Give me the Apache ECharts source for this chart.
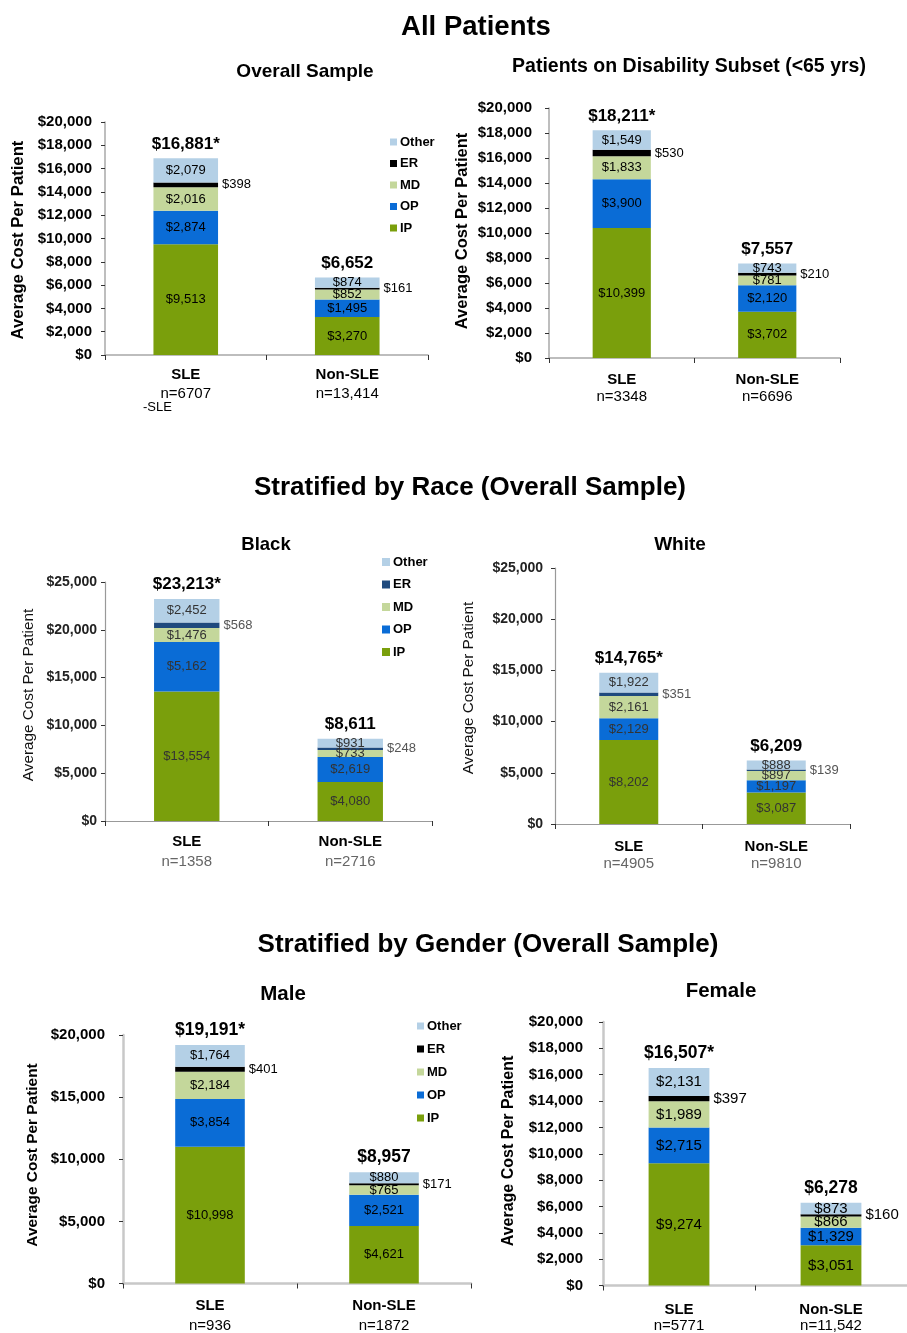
<!DOCTYPE html>
<html><head><meta charset="utf-8">
<script src="https://cdn.jsdelivr.net/npm/echarts@6/dist/echarts.min.js"></script>
<style>html,body{margin:0;padding:0;background:#fff}#c{width:907px;height:1333px}</style>
</head><body><div id="c"></div>
<script>
// ---------------- DATA ----------------
const categories = ['SLE', 'Non-SLE'];
const segmentNames = ['IP', 'OP', 'MD', 'ER', 'Other'];
const legendOrder = ['Other', 'ER', 'MD', 'OP', 'IP'];

// All Patients - Overall Sample
const overallIP = [9513, 3270];
const overallOP = [2874, 1495];
const overallMD = [2016, 852];
const overallER = [398, 161];
const overallOther = [2079, 874];
const overallTotals = ['$16,881*', '$6,652'];
const overallN = ['n=6707', 'n=13,414'];

// All Patients - Disability subset (<65 yrs)
const disabIP = [10399, 3702];
const disabOP = [3900, 2120];
const disabMD = [1833, 781];
const disabER = [530, 210];
const disabOther = [1549, 743];
const disabTotals = ['$18,211*', '$7,557'];
const disabN = ['n=3348', 'n=6696'];

// Race - Black
const blackIP = [13554, 4080];
const blackOP = [5162, 2619];
const blackMD = [1476, 733];
const blackER = [568, 248];
const blackOther = [2452, 931];
const blackTotals = ['$23,213*', '$8,611'];
const blackN = ['n=1358', 'n=2716'];

// Race - White
const whiteIP = [8202, 3087];
const whiteOP = [2129, 1197];
const whiteMD = [2161, 897];
const whiteER = [351, 139];
const whiteOther = [1922, 888];
const whiteTotals = ['$14,765*', '$6,209'];
const whiteN = ['n=4905', 'n=9810'];

// Gender - Male
const maleIP = [10998, 4621];
const maleOP = [3854, 2521];
const maleMD = [2184, 765];
const maleER = [401, 171];
const maleOther = [1764, 880];
const maleTotals = ['$19,191*', '$8,957'];
const maleN = ['n=936', 'n=1872'];

// Gender - Female
const femaleIP = [9274, 3051];
const femaleOP = [2715, 1329];
const femaleMD = [1989, 866];
const femaleER = [397, 160];
const femaleOther = [2131, 873];
const femaleTotals = ['$16,507*', '$6,278'];
const femaleN = ['n=5771', 'n=11,542'];

// y-axis scales (max, interval)
const yMax = [20000, 20000, 25000, 25000, 20000, 20000];
const yInterval = [2000, 2000, 5000, 5000, 5000, 2000];

// ---------------- BUILD ----------------
const panelData = [
  {IP: overallIP, OP: overallOP, MD: overallMD, ER: overallER, Other: overallOther, totals: overallTotals, n: overallN},
  {IP: disabIP, OP: disabOP, MD: disabMD, ER: disabER, Other: disabOther, totals: disabTotals, n: disabN},
  {IP: blackIP, OP: blackOP, MD: blackMD, ER: blackER, Other: blackOther, totals: blackTotals, n: blackN},
  {IP: whiteIP, OP: whiteOP, MD: whiteMD, ER: whiteER, Other: whiteOther, totals: whiteTotals, n: whiteN},
  {IP: maleIP, OP: maleOP, MD: maleMD, ER: maleER, Other: maleOther, totals: maleTotals, n: maleN},
  {IP: femaleIP, OP: femaleOP, MD: femaleMD, ER: femaleER, Other: femaleOther, totals: femaleTotals, n: femaleN}
];

const FONT = "'Liberation Sans', Arial, Helvetica, sans-serif";
const palette = {IP: '#7a9f0c', OP: '#0a6cd6', MD: '#c4d79b', Other: '#b4d0e6'};

const layout = [
  {left:105, top:122, width:323, height:233, tickFont:15, tickBold:true, tickColor:'#000', tickMargin:13,
   catMargin:10.5, catLH:19, catFont:15, nColor:'#000', segFont:13, segColor:'#000', outColor:'#000', totalFont:17,
   er:'#000000', axisColor:'#a8a8a8', axisW:1.5,
   legend:{left:390, top:135, gap:7.5, size:7}},
  {left:549, top:108, width:291, height:250, tickFont:15, tickBold:true, tickColor:'#000', tickMargin:17,
   catMargin:13.5, catLH:17, catFont:15, nColor:'#000', segFont:13, segColor:'#000', outColor:'#000', totalFont:17,
   er:'#000000', axisColor:'#a8a8a8', axisW:1.5, legend:null},
  {left:105, top:582, width:327, height:239, tickFont:14, tickBold:true, tickColor:'#222', tickMargin:8,
   catMargin:11, catLH:20, catFont:15, nColor:'#666', segFont:13, segColor:'#333', outColor:'#555', totalFont:17,
   er:'#1f4a7e', axisColor:'#999', axisW:1.2,
   legend:{left:382, top:555, gap:8.5, size:8}},
  {left:555, top:568, width:295, height:256, tickFont:14, tickBold:true, tickColor:'#222', tickMargin:12,
   catMargin:14.5, catLH:17, catFont:15, nColor:'#666', segFont:13, segColor:'#333', outColor:'#555', totalFont:17,
   er:'#1f4a7e', axisColor:'#999', axisW:1.2, legend:null},
  {left:123, top:1035, width:348, height:249, tickFont:15, tickBold:true, tickColor:'#000', tickMargin:18,
   catMargin:12, catLH:20, catFont:15, nColor:'#000', segFont:13, segColor:'#000', outColor:'#000', totalFont:17.5,
   er:'#000000', axisColor:'#c8c8c8', axisW:2.5,
   legend:{left:417, top:1019, gap:9, size:7}},
  {left:603, top:1022, width:308, height:266, tickFont:15, tickBold:true, tickColor:'#000', tickMargin:20,
   catMargin:16, catLH:16, catFont:15, nColor:'#000', segFont:15, segColor:'#000', outColor:'#000', totalFont:17.5,
   er:'#000000', axisColor:'#c8c8c8', axisW:2.5, legend:null}
];

const money = v => '$' + Number(v).toLocaleString('en-US');

const grids = [], xAxes = [], yAxes = [], series = [], legends = [];

layout.forEach((L, i) => {
  const d = panelData[i];
  grids.push({left: L.left, top: L.top, width: L.width, height: L.height, containLabel: false});
  xAxes.push({
    type: 'category', gridIndex: i, data: categories,
    axisLine: {show: true, lineStyle: {color: L.axisColor, width: L.axisW}},
    axisTick: {show: true, length: 5, lineStyle: {color: '#333'}},
    axisLabel: {
      margin: L.catMargin, fontFamily: FONT,
      formatter: (v, idx) => '{a|' + v + '}\n{b|' + d.n[idx] + '}',
      rich: {
        a: {fontFamily: FONT, fontWeight: 'bold', fontSize: L.catFont, lineHeight: L.catLH, color: '#000'},
        b: {fontFamily: FONT, fontSize: L.catFont, lineHeight: L.catLH, color: L.nColor}
      }
    }
  });
  yAxes.push({
    type: 'value', gridIndex: i, min: 0, max: yMax[i], interval: yInterval[i],
    axisLine: {show: true, lineStyle: {color: L.axisColor, width: L.axisW}},
    axisTick: {show: true, length: 4, lineStyle: {color: '#333'}},
    splitLine: {show: false},
    axisLabel: {formatter: money, fontFamily: FONT, fontWeight: L.tickBold ? 'bold' : 'normal',
      fontSize: L.tickFont, color: L.tickColor, margin: L.tickMargin}
  });
  segmentNames.forEach(seg => {
    const isER = seg === 'ER';
    series.push({
      type: 'bar', name: seg, xAxisIndex: i, yAxisIndex: i, stack: 'p' + i,
      barWidth: '40%', data: d[seg],
      itemStyle: {color: isER ? L.er : palette[seg]},
      label: isER ? {
        show: true, position: 'right', distance: 4, formatter: p => money(p.value),
        fontFamily: FONT, fontSize: L.segFont, color: L.outColor
      } : {
        show: true, position: 'inside', formatter: p => money(p.value),
        fontFamily: FONT, fontSize: L.segFont, color: L.segColor
      },
      emphasis: {disabled: true}
    });
  });
  series.push({
    type: 'bar', name: 'Total', xAxisIndex: i, yAxisIndex: i, stack: 'p' + i,
    barWidth: '40%', data: [0, 0], itemStyle: {color: 'transparent'},
    label: {show: true, position: 'top', distance: 6, formatter: p => d.totals[p.dataIndex],
      fontFamily: FONT, fontWeight: 'bold', fontSize: L.totalFont, color: '#000'},
    emphasis: {disabled: true}
  });
  if (L.legend) {
    legends.push({
      orient: 'vertical', left: L.legend.left, top: L.legend.top, padding: 0,
      itemWidth: L.legend.size, itemHeight: L.legend.size, itemGap: L.legend.gap,
      icon: 'rect', selectedMode: false,
      data: legendOrder.map(nm => ({name: nm, itemStyle: {color: nm === 'ER' ? L.er : palette[nm]}})),
      textStyle: {fontFamily: FONT, fontSize: 13, fontWeight: 'bold', lineHeight: 14, color: '#000', padding: [0, 0, 0, -2]}
    });
  }
});

const txt = (x, y, text, size, weight, opts = {}) => ({
  type: 'text', x: x, y: y, rotation: opts.rot || 0, silent: true,
  style: {text: text, font: (weight || 'normal') + ' ' + size + 'px ' + FONT,
    textAlign: opts.align || 'center', textVerticalAlign: 'middle', fill: opts.color || '#000'}
});

const graphics = [
  txt(476, 27, 'All Patients', 27.5, 'bold'),
  txt(305, 72, 'Overall Sample', 19, 'bold'),
  txt(689, 67, 'Patients on Disability Subset (<65 yrs)', 19.5, 'bold'),
  txt(470, 488, 'Stratified by Race (Overall Sample)', 26, 'bold'),
  txt(266, 545, 'Black', 18.5, 'bold'),
  txt(680, 545, 'White', 19, 'bold'),
  txt(488, 945, 'Stratified by Gender (Overall Sample)', 26, 'bold'),
  txt(283, 994, 'Male', 20.5, 'bold'),
  txt(721, 991, 'Female', 20.5, 'bold'),
  txt(18, 240, 'Average Cost Per Patient', 16.7, 'bold', {rot: Math.PI / 2}),
  txt(462, 231, 'Average Cost Per Patient', 16.5, 'bold', {rot: Math.PI / 2}),
  txt(29, 695, 'Average Cost Per Patient', 15.3, 'normal', {rot: Math.PI / 2, color: '#111'}),
  txt(469, 688, 'Average Cost Per Patient', 15.3, 'normal', {rot: Math.PI / 2, color: '#111'}),
  txt(33, 1155, 'Average Cost Per Patient', 15.4, 'bold', {rot: Math.PI / 2}),
  txt(509, 1151, 'Average Cost Per Patient', 16, 'bold', {rot: Math.PI / 2}),
  txt(143, 407, '-SLE', 13, 'normal', {align: 'left'})
];

const chart = echarts.init(document.getElementById('c'));
chart.setOption({
  animation: false,
  backgroundColor: '#ffffff',
  grid: grids, xAxis: xAxes, yAxis: yAxes, series: series, legend: legends,
  graphic: graphics
});
</script>
</body></html>
